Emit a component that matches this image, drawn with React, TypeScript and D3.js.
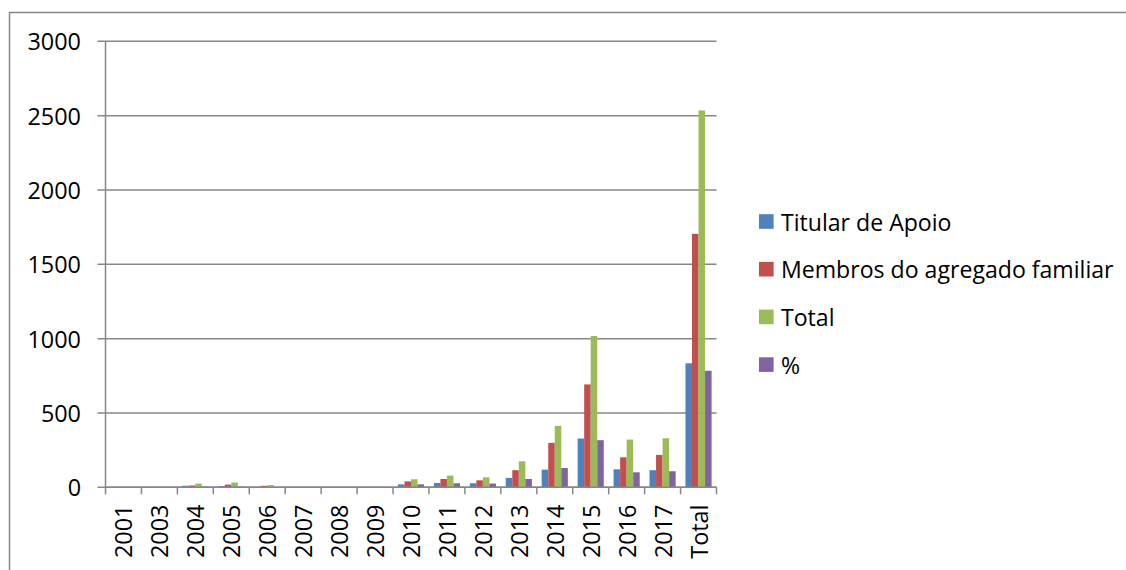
import React from "react";
import * as d3 from "d3";

const categories = ["2001","2003","2004","2005","2006","2007","2008","2009","2010","2011","2012","2013","2014","2015","2016","2017","Total"];
const titular = [0, 1, 10, 8, 3, 1, 1, 1, 20, 29, 27, 63, 119, 328, 121, 115, 834];
const membros = [1, 2, 12, 18, 10, 1, 1, 2, 40, 56, 47, 115, 299, 692, 202, 218, 1705];
const totalVals = [1, 4, 25, 32, 15, 2, 2, 4, 54, 79, 67, 175, 413, 1018, 321, 330, 2535];
const pct = [0, 1, 5, 5, 3, 1, 1, 1, 20, 27, 25, 56, 130, 317, 101, 108, 784];
const seriesNames = ["Titular de Apoio", "Membros do agregado familiar", "Total", "%"];
const yTicks = [0, 500, 1000, 1500, 2000, 2500, 3000];

const colors = ["#4F81BD", "#C0504D", "#9BBB59", "#8064A2"];
const grid = "#878787";
const font = "'Open Sans', sans-serif";

export default function App() {
  const W = 1126, H = 570;
  const left = 105.5, right = 716.5, top = 41.3, bottom = 487.3;
  const series = [titular, membros, totalVals, pct];
  const x = d3.scaleBand<string>().domain(categories).range([left, right]).paddingInner(0).paddingOuter(0);
  const y = d3.scaleLinear().domain([0, 3000]).range([bottom, top]);
  const B = x.bandwidth();
  const w = B / 5.5;
  const off = 0.75 * w;

  return (
    <div style={{ position: "fixed", left: 0, top: 0, width: W, height: H, background: "#fff" }}>
      <svg width={W} height={H} style={{ display: "block" }}>
        <rect x={0} y={0} width={W} height={H} fill="#fff" />
        <path d={`M9.5,${H + 2} V12.5 H${W + 2}`} fill="none" stroke={grid} strokeWidth={1.5} />
        {yTicks.map((t) => (
          <g key={t}>
            <line x1={left - 8} x2={right} y1={y(t)} y2={y(t)} stroke={grid} strokeWidth={1.5} />
            <text x={81} y={y(t)} textAnchor="end" dominantBaseline="central" fontFamily={font} fontSize={23.4} fill="#000">{t}</text>
          </g>
        ))}
        {series.map((vals, si) => (
          <g key={si}>
            {vals.map((v, ci) => (
              <rect key={ci} x={(x(categories[ci]) as number) + off + si * w} y={y(v)} width={w} height={bottom - y(v)} fill={colors[si]} />
            ))}
          </g>
        ))}
        <line x1={left} x2={left} y1={top} y2={bottom} stroke={grid} strokeWidth={1.5} />
        <line x1={left} x2={right} y1={bottom} y2={bottom} stroke={grid} strokeWidth={1.5} />
        {categories.map((c, i) => (
          <line key={"t" + i} x1={left + i * B} x2={left + i * B} y1={bottom} y2={bottom + 7} stroke={grid} strokeWidth={1.5} />
        ))}
        <line x1={right} x2={right} y1={bottom} y2={bottom + 7} stroke={grid} strokeWidth={1.5} />
        {categories.map((c) => {
          const cx = (x(c) as number) + B / 2;
          return (
            <text key={c} transform={`translate(${cx},504.5) rotate(-90)`} textAnchor="end" dominantBaseline="central" fontFamily={font} fontSize={23.4} fill="#000">{c}</text>
          );
        })}
        {seriesNames.map((n, i) => {
          const cy = 221.5 + 47.7 * i;
          return (
            <g key={n}>
              <rect x={759} y={cy - 7.3} width={14.6} height={14.6} fill={colors[i]} />
              <text x={781} y={cy} dominantBaseline="central" fontFamily={font} fontSize={23.1} fill="#000">{n}</text>
            </g>
          );
        })}
      </svg>
    </div>
  );
}
